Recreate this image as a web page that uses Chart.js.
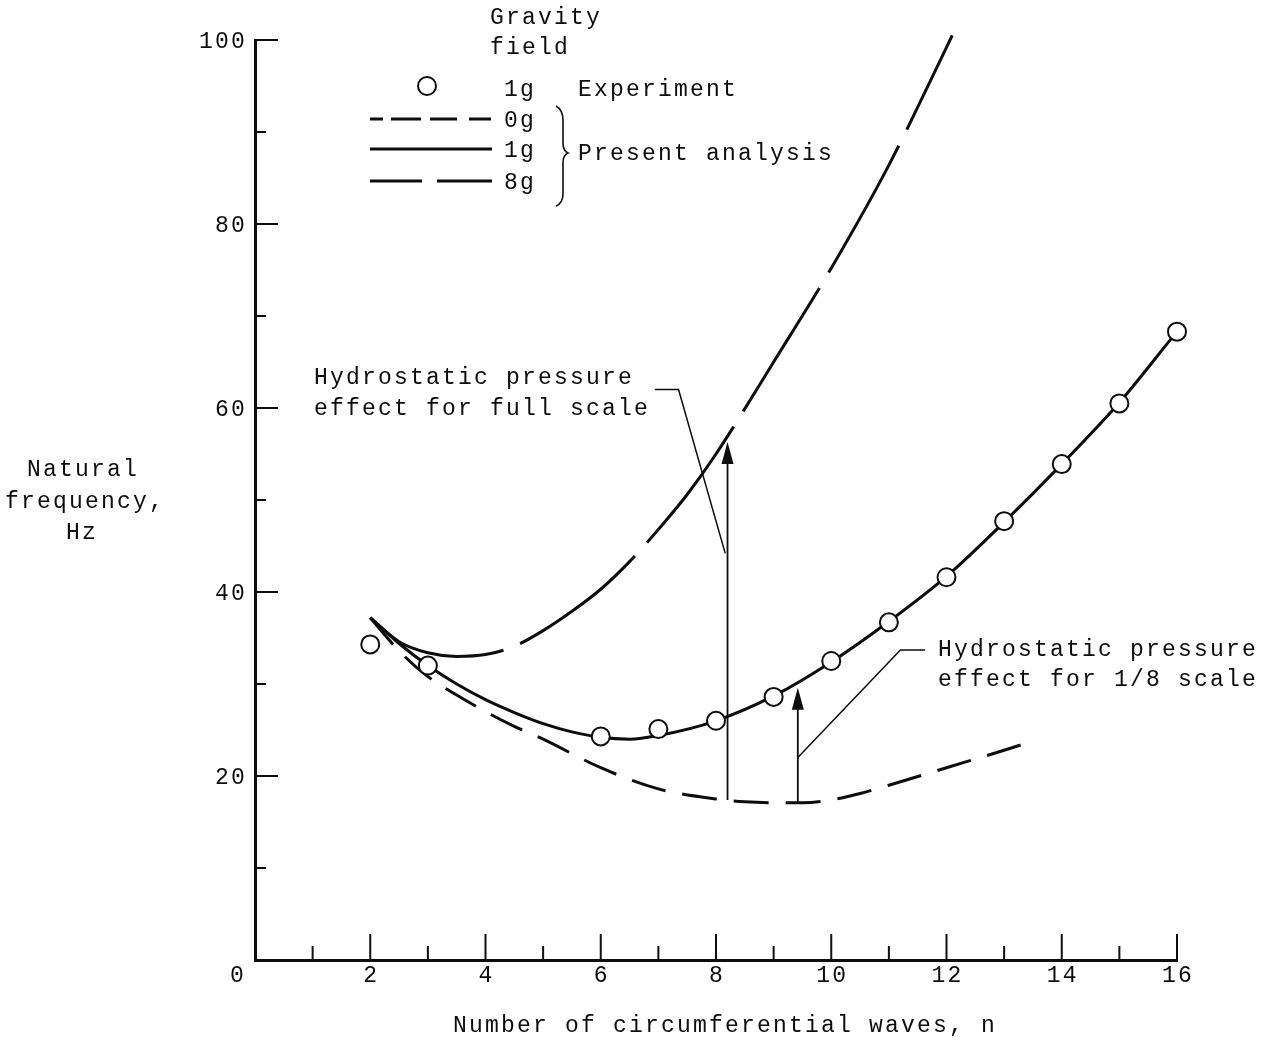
<!DOCTYPE html>
<html>
<head>
<meta charset="utf-8">
<script src="https://cdn.jsdelivr.net/npm/chart.js@4.4.1/dist/chart.umd.min.js"></script>
<style>
  html, body { margin: 0; padding: 0; background: #fff; }
  #wrap { width: 1273px; height: 1042px; }
</style>
</head>
<body>
<div id="wrap"><canvas id="chart" width="1273" height="1042"></canvas></div>
<script>
// experiment, 1g
const expN = [2, 3, 6, 7, 8, 9, 10, 11, 12, 13, 14, 15, 16]
const expHz = [34.3, 32.0, 24.3, 25.1, 26.0, 28.6, 32.5, 36.7, 41.6, 47.7, 53.9, 60.5, 68.3]

// present analysis
const n1g = [2, 2.5, 3, 3.5, 4, 4.5, 5, 5.5, 6, 6.5, 7, 8, 9, 10, 11, 12, 13, 14, 15, 16, 16.2]
const hz1g = [37.2, 34.4, 32.0, 30.0, 28.3, 26.9, 25.7, 24.8, 24.2, 24.0, 24.4, 26.0, 28.7, 32.4, 36.8, 41.7, 47.6, 53.9, 60.6, 68.3, 69.8]

const n0g = [2, 2.5, 3, 3.5, 4, 4.5, 5, 6, 7, 8, 8.5, 9, 9.5, 10, 10.5, 11, 12, 13, 13.5]
const hz0g = [37.2, 33.6, 30.8, 28.8, 27.0, 25.4, 24.0, 20.9, 18.6, 17.5, 17.2, 17.1, 17.1, 17.4, 18.1, 19.0, 20.9, 22.8, 23.8]

const n8g = [2, 2.5, 3, 3.5, 4, 4.5, 5, 5.5, 6, 6.5, 7, 7.5, 8, 9, 10, 11, 12, 12.1]
const hz8g = [37.2, 34.6, 33.4, 33.0, 33.2, 34.1, 35.8, 37.9, 40.3, 43.3, 46.8, 50.6, 55.0, 65.0, 75.2, 86.4, 99.2, 100.5]

// axis ticks
const xTickValues = [0, 1, 2, 3, 4, 5, 6, 7, 8, 9, 10, 11, 12, 13, 14, 15, 16]
const xTickLabels = ['0', '', '2', '', '4', '', '6', '', '8', '', '10', '', '12', '', '14', '', '16']
const yTickValues = [10, 20, 30, 40, 50, 60, 70, 80, 90, 100]
const yTickLabels = ['', '20', '', '40', '', '60', '', '80', '', '100']

// hydrostatic pressure arrows: n, from, to
const arrowFull = [8.2, 17.4, 56.3]
const arrowEighth = [9.42, 17.1, 29.6]

const pts = (xs, ys) => xs.map((x, i) => ({x: x, y: ys[i]}))

const FONT = '23px "Liberation Mono", "DejaVu Sans Mono", monospace'
const SPACING = '2.2px'
const INK = '#0d0d0d'

function text(ctx, s, x, y, align) {
  ctx.textAlign = align || 'left'
  ctx.fillText(s, x, y)
}

const drawExtras = {
  id: 'drawExtras',
  afterDatasetsDraw(chart) {
    const ctx = chart.ctx
    const xs = chart.scales.x
    const ys = chart.scales.y
    const px = v => xs.getPixelForValue(v)
    const py = v => ys.getPixelForValue(v)
    ctx.save()
    ctx.strokeStyle = INK
    ctx.fillStyle = INK
    ctx.lineWidth = 1.8

    // vertical arrows
    for (const a of [arrowFull, arrowEighth]) {
      const x = px(a[0])
      const yb = py(a[1])
      const yt = py(a[2])
      ctx.beginPath()
      ctx.moveTo(x, yb)
      ctx.lineTo(x, yt + 18)
      ctx.stroke()
      ctx.beginPath()
      ctx.moveTo(x, yt)
      ctx.lineTo(x - 6, yt + 22)
      ctx.lineTo(x + 6, yt + 22)
      ctx.closePath()
      ctx.fill()
    }

    // leader lines
    ctx.lineWidth = 1.5
    ctx.beginPath()
    ctx.moveTo(px(6.94), py(62.0))
    ctx.lineTo(px(7.35), py(62.0))
    ctx.lineTo(px(8.16), py(44.2))
    ctx.stroke()
    ctx.beginPath()
    ctx.moveTo(px(11.63), py(33.7))
    ctx.lineTo(px(11.2), py(33.7))
    ctx.lineTo(px(9.42), py(22.0))
    ctx.stroke()

    ctx.font = FONT
    ctx.letterSpacing = SPACING
    ctx.textBaseline = 'middle'
    text(ctx, 'Hydrostatic pressure', 314, 378)
    text(ctx, 'effect for full scale', 314, 409)
    text(ctx, 'Hydrostatic pressure', 938, 650)
    text(ctx, 'effect for 1/8 scale', 938, 680)
    ctx.restore()
  },
  afterDraw(chart) {
    const ctx = chart.ctx
    const xs = chart.scales.x
    const ys = chart.scales.y
    const area = chart.chartArea
    ctx.save()
    ctx.strokeStyle = INK
    ctx.fillStyle = INK
    ctx.lineWidth = 2

    // inward ticks
    xTickValues.forEach(v => {
      if (v === 0) return
      const x = xs.getPixelForValue(v)
      const len = v % 2 === 0 ? 26 : 14
      ctx.beginPath()
      ctx.moveTo(x, area.bottom)
      ctx.lineTo(x, area.bottom - len)
      ctx.stroke()
    })
    yTickValues.forEach(v => {
      const y = ys.getPixelForValue(v)
      const len = v % 20 === 0 ? 23 : 11
      ctx.beginPath()
      ctx.moveTo(area.left, y)
      ctx.lineTo(area.left + len, y)
      ctx.stroke()
    })

    ctx.font = FONT
    ctx.letterSpacing = SPACING
    ctx.textBaseline = 'middle'
    xTickValues.forEach((v, i) => {
      if (!xTickLabels[i]) return
      let x = xs.getPixelForValue(v)
      if (v === 0) x -= 18
      text(ctx, xTickLabels[i], x + 1.1, area.bottom + 16, 'center')
    })
    yTickValues.forEach((v, i) => {
      if (!yTickLabels[i]) return
      text(ctx, yTickLabels[i], area.left - 8, ys.getPixelForValue(v) + 2, 'right')
    })

    // axis titles
    text(ctx, 'Number of circumferential waves, n', 453, 1026)
    text(ctx, 'Natural', 27, 470)
    text(ctx, 'frequency,', 5, 502)
    text(ctx, 'Hz', 66, 533)

    // legend
    text(ctx, 'Gravity', 490, 18)
    text(ctx, 'field', 490, 48)
    text(ctx, '1g', 504, 90)
    text(ctx, 'Experiment', 578, 90)
    text(ctx, '0g', 504, 121)
    text(ctx, '1g', 504, 151)
    text(ctx, '8g', 504, 183)
    text(ctx, 'Present analysis', 578, 154)

    ctx.lineWidth = 2
    ctx.beginPath()
    ctx.arc(427, 86, 9, 0, Math.PI * 2)
    ctx.stroke()

    ctx.lineWidth = 3
    ctx.setLineDash([13, 8, 30, 9, 27, 12, 22])
    ctx.beginPath()
    ctx.moveTo(370, 119)
    ctx.lineTo(492, 119)
    ctx.stroke()
    ctx.setLineDash([])
    ctx.beginPath()
    ctx.moveTo(370, 149)
    ctx.lineTo(492, 149)
    ctx.stroke()
    ctx.setLineDash([52, 15, 60])
    ctx.beginPath()
    ctx.moveTo(370, 181)
    ctx.lineTo(492, 181)
    ctx.stroke()
    ctx.setLineDash([])

    // brace
    ctx.lineWidth = 1.6
    ctx.beginPath()
    ctx.moveTo(556, 106)
    ctx.quadraticCurveTo(563, 110, 563, 120)
    ctx.lineTo(563, 143)
    ctx.quadraticCurveTo(563, 151, 568, 153)
    ctx.quadraticCurveTo(563, 155, 563, 163)
    ctx.lineTo(563, 194)
    ctx.quadraticCurveTo(563, 203, 556, 206)
    ctx.stroke()
    ctx.restore()
  }
}

new Chart(document.getElementById('chart'), {
  type: 'scatter',
  data: {
    datasets: [
      {
        label: '1g Experiment',
        data: pts(expN, expHz),
        showLine: false,
        pointRadius: 9,
        pointBorderWidth: 2,
        pointBorderColor: INK,
        pointBackgroundColor: '#fff',
        clip: false
      },
      {
        label: '1g',
        data: pts(n1g, hz1g),
        showLine: true,
        borderColor: INK,
        borderWidth: 3,
        pointRadius: 0,
        cubicInterpolationMode: 'monotone',
        clip: false
      },
      {
        label: '0g',
        data: pts(n0g, hz0g),
        showLine: true,
        borderColor: INK,
        borderWidth: 3,
        borderDash: [35, 17],
        pointRadius: 0,
        cubicInterpolationMode: 'monotone'
      },
      {
        label: '8g',
        data: pts(n8g, hz8g),
        showLine: true,
        borderColor: INK,
        borderWidth: 3,
        borderDash: [145, 18],
        pointRadius: 0,
        cubicInterpolationMode: 'monotone',
        clip: false
      }
    ]
  },
  options: {
    responsive: false,
    devicePixelRatio: 1,
    animation: false,
    layout: { padding: { left: 0, top: 40, right: 96, bottom: 0 } },
    plugins: {
      legend: { display: false },
      tooltip: { enabled: false }
    },
    scales: {
      x: {
        type: 'linear',
        min: 0,
        max: 16,
        ticks: { display: false },
        grid: { display: false },
        border: { display: true, color: INK, width: 3 },
        afterFit: s => { s.height = 82 }
      },
      y: {
        type: 'linear',
        min: 0,
        max: 100,
        ticks: { display: false },
        grid: { display: false },
        border: { display: true, color: INK, width: 3 },
        afterFit: s => { s.width = 255 }
      }
    }
  },
  plugins: [drawExtras]
})
</script>
</body>
</html>
